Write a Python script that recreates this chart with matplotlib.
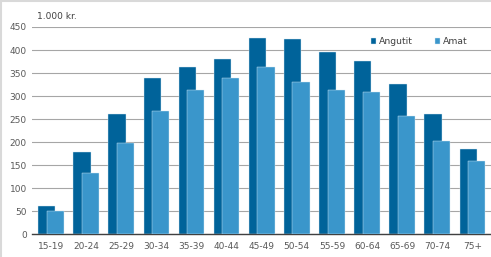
import matplotlib
matplotlib.use("Agg")
import matplotlib.pyplot as plt
import numpy as np
from matplotlib.lines import Line2D

categories = ["15-19", "20-24", "25-29", "30-34", "35-39", "40-44", "45-49",
              "50-54", "55-59", "60-64", "65-69", "70-74", "75+"]
angutit = [62, 178, 261, 340, 363, 380, 427, 424, 395, 377, 327, 262, 185]
amat = [51, 132, 199, 268, 314, 340, 363, 330, 314, 308, 256, 203, 159]
yticks = [0, 50, 100, 150, 200, 250, 300, 350, 400, 450]

dark = "#00639a"
light = "#3a96cb"

fig = plt.figure(figsize=(4.91, 2.57), dpi=100)
ax = fig.add_axes([0.066, 0.089, 0.934, 0.806])

x = np.arange(len(categories))
w = 0.49
ax.bar(x - 0.12, angutit, width=w, color=dark, edgecolor="#d6e8f3", linewidth=0.3, label="Angutit", zorder=2)
ax.bar(x + 0.12, amat, width=w, color=light, edgecolor="#d6e8f3", linewidth=0.3, label="Amat", zorder=3)

ax.set_xlim(-0.53, len(categories) - 0.47)
ax.set_ylim(0, 450)
ax.set_yticks(yticks)
ax.set_xticks(x)
ax.set_xticklabels(categories)
ax.yaxis.grid(True, color="#a6a6a6", linewidth=0.8, zorder=0)
ax.set_axisbelow(True)
for s in ["top", "right", "left"]:
    ax.spines[s].set_visible(False)
ax.spines["bottom"].set_color("#404040")
ax.spines["bottom"].set_linewidth(1.0)
ax.tick_params(axis="both", length=0, labelsize=6.5, labelcolor="#595959", pad=4)
ax.tick_params(axis="x", pad=6)

fig.text(0.075, 0.935, "1.000 kr.", fontsize=6.5, color="#404040", ha="left", va="center")

leg = ax.legend(loc="upper left", bbox_to_anchor=(0.73, 0.97), ncol=2, frameon=False,
                fontsize=6.7, handlelength=0.6, handleheight=0.6, handletextpad=0.3,
                columnspacing=2.3, borderaxespad=0)
for t in leg.get_texts():
    t.set_color("#404040")

fig.add_artist(Line2D([0, 1], [0.997, 0.997], transform=fig.transFigure, color="#d9d9d9", linewidth=1.5))
fig.add_artist(Line2D([0.002, 0.002], [0, 1], transform=fig.transFigure, color="#d9d9d9", linewidth=1.5))

fig.savefig("out.png", dpi=100)
